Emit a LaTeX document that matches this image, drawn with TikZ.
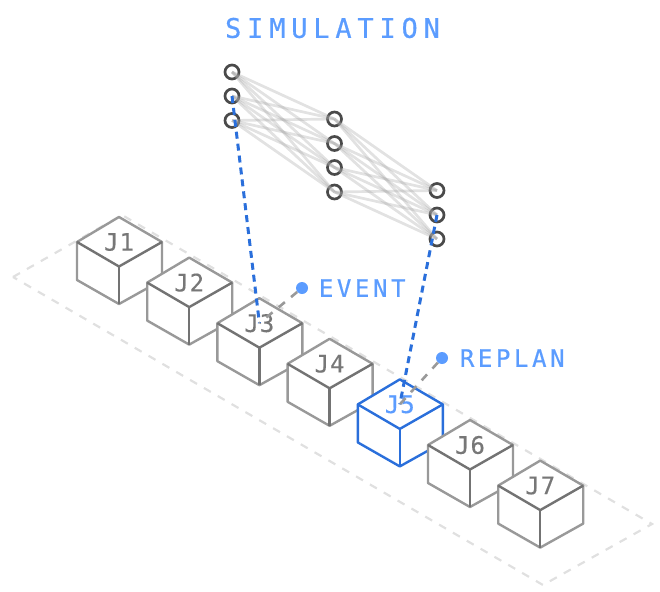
\documentclass[tikz,border=0pt]{standalone}
\usepackage{fontspec}
\setmonofont{DejaVu Sans Mono}
\newfontfamily\titlefont[LetterSpace=21.5,FakeBold=0.5]{DejaVu Sans Mono}
\newfontfamily\tagfont[LetterSpace=15,FakeBold=0.5]{DejaVu Sans Mono}
\newfontfamily\jobfont[LetterSpace=4,FakeBold=0.3]{DejaVu Sans Mono}
\usetikzlibrary{positioning}

\definecolor{cubeouter}{HTML}{999999}
\definecolor{cubeinner}{HTML}{737373}
\definecolor{joblabel}{HTML}{777777}
\definecolor{bluedark}{HTML}{2A6FDB}
\definecolor{bluelight}{HTML}{5B9CFF}
\definecolor{planegray}{HTML}{E0E0E0}
\definecolor{neuron}{HTML}{4A4A4A}

\tikzset{
  plane/.style={draw=planegray, line width=2.2pt, dash pattern=on 8pt off 8pt},
  neuronnode/.style={circle, draw=neuron, line width=2.7pt, minimum size=14pt, inner sep=0pt},
  weight/.style={draw=gray!70, line width=2.7pt, opacity=0.33},
  simlink/.style={draw=bluedark, line width=3pt, dash pattern=on 7pt off 5pt},
  eventlink/.style={draw=cubeouter, line width=2.6pt, dash pattern=on 8pt off 8pt},
  tagdot/.style={circle, fill=bluelight, minimum size=12pt, inner sep=0pt},
  tagtext/.style={text=bluelight, font=\tagfont\fontsize{24}{24}\selectfont, inner sep=0pt},
}

\begin{document}
\begin{tikzpicture}[x=1pt, y=-1pt]
  \useasboundingbox (0,0) rectangle (660,591);

  % ground plane
  \draw[plane] (13,277) -- (122,215) -- (652,524) -- (543,585) -- cycle;

  % jobs
  \foreach \i/\edgeA/\edgeB/\txt in {1/cubeouter/cubeinner/joblabel, 2/cubeouter/cubeinner/joblabel,
      3/cubeouter/cubeinner/joblabel, 4/cubeouter/cubeinner/joblabel, 5/bluedark/bluedark/bluelight,
      6/cubeouter/cubeinner/joblabel, 7/cubeouter/cubeinner/joblabel} {
    \pgfmathsetmacro{\cx}{119+(\i-1)*70.2}
    \pgfmathsetmacro{\cy}{242+(\i-1)*40.6}
    \begin{scope}[shift={(\cx,\cy)}]
      \filldraw[fill=white, draw=\edgeA, line width=2.4pt, line join=round]
        (0,-25) -- (43,0) -- (43,38) -- (0,62) -- (-42,38) -- (-42,0) -- cycle;
      \draw[draw=\edgeB, line width=2.4pt, line join=round] (-42,0) -- (0,24.5) -- (43,0);
      \draw[draw=\edgeB, line width=2.4pt] (0,24.5) -- (0,62);
      \node[inner sep=0pt, text=\txt, font=\jobfont\fontsize{24}{24}\selectfont] (j\i) at (0,0) {J\i};
    \end{scope}
  }

  % network
  \foreach \i/\y in {1/72, 2/96, 3/120.5}
    \node[neuronnode] (a\i) at (232,\y) {};
  \foreach \i/\y in {1/119, 2/143.5, 3/167.5, 4/192}
    \node[neuronnode] (b\i) at (334.5,\y) {};
  \foreach \i/\y in {1/190.5, 2/215, 3/239}
    \node[neuronnode] (c\i) at (437,\y) {};
  \foreach \i in {1,2,3}
    \foreach \j in {1,2,3,4} {
      \draw[weight] (a\i.center) -- (b\j.center);
      \draw[weight] (c\i.center) -- (b\j.center);
    }

  % links down to the jobs
  \draw[simlink] (a2.center) -- (j3.center);
  \draw[simlink] (c2.center) -- (j5.center);

  % title and tags
  \node[text=bluelight, font=\titlefont\fontsize{27}{27}\selectfont, inner sep=0pt] (title) at (332.5,28) {SIMULATION};
  \node[tagdot] (eventdot) at (302,288) {};
  \node[tagtext, right=10.5pt of eventdot] (eventtag) {EVENT};
  \node[tagdot] (replandot) at (442,358) {};
  \node[tagtext, right=11.5pt of replandot] (replantag) {REPLAN};
  \draw[eventlink] (eventdot) -- (j3.center);
  \draw[eventlink] (replandot) -- (j5.center);
\end{tikzpicture}
\end{document}
